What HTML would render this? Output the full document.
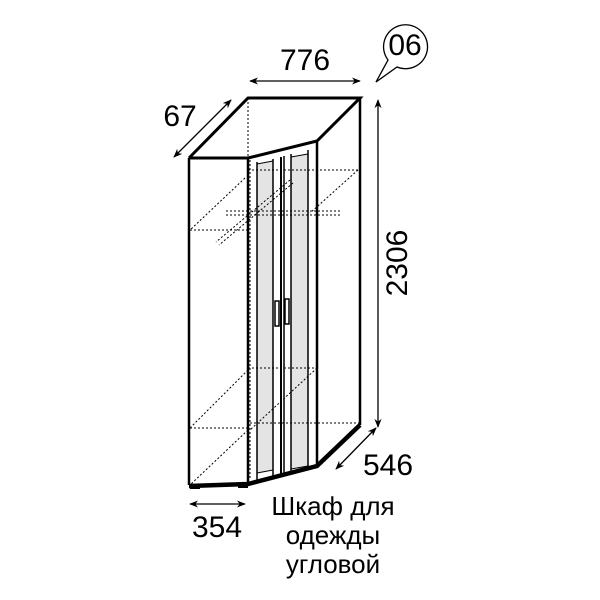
<!DOCTYPE html>
<html><head><meta charset="utf-8"><style>
html,body{margin:0;padding:0;background:#fff}
svg{display:block}
text{font-family:"Liberation Sans",sans-serif;fill:#000}
</style></head><body>
<svg width="600" height="600" viewBox="0 0 600 600" xmlns="http://www.w3.org/2000/svg">
<defs>
<marker id="a" viewBox="0 0 10 10" refX="9" refY="5" markerWidth="9" markerHeight="9" orient="auto-start-reverse" markerUnits="userSpaceOnUse">
<path d="M0,1 L10,5 L0,9 L3,5 Z" fill="#000"/></marker>
</defs>
<polygon points="257,164 273,161 273,470 257,473" fill="#e4e4e4"/>
<polygon points="291,157 308,154 308,466 291,469" fill="#e4e4e4"/>
<g stroke="#000" stroke-width="1" stroke-dasharray="2,2" fill="none">
<line x1="248" y1="98" x2="248" y2="158"/>
<line x1="248" y1="98" x2="360" y2="98"/>
<line x1="250" y1="160" x2="250" y2="480"/>
<line x1="248" y1="170" x2="358" y2="170"/>
<line x1="358" y1="170" x2="310" y2="213"/>
<line x1="245" y1="178" x2="190" y2="230"/>
<line x1="190" y1="230" x2="250" y2="230"/>
<line x1="226" y1="211" x2="340" y2="211"/>
<line x1="226" y1="215" x2="340" y2="215"/>
<line x1="290" y1="180" x2="216" y2="242"/>
<line x1="293" y1="183" x2="219" y2="245"/>
<line x1="248" y1="368" x2="317" y2="368"/>
<line x1="248" y1="370" x2="190" y2="428"/>
<line x1="317" y1="368" x2="250" y2="430"/>
<line x1="190" y1="428" x2="250" y2="428"/>
<line x1="250" y1="423" x2="360" y2="423"/>
<line x1="248" y1="430" x2="190" y2="485"/>
</g>
<g stroke="#000" fill="none" stroke-linejoin="miter">
<line x1="189" y1="158" x2="189" y2="485" stroke-width="2.5"/>
<line x1="248" y1="158" x2="248" y2="483" stroke-width="2.5"/>
<line x1="317" y1="141" x2="317" y2="465" stroke-width="2.5"/>
<line x1="360" y1="98" x2="360" y2="425" stroke-width="2.5"/>
<polyline points="189,158 248,98 360,98 317,141 248,158 189,158" stroke-width="3"/>
<polyline points="189,486 248,484 317,466 360,425" stroke-width="4.5"/>
<line x1="257" y1="162" x2="257" y2="480" stroke-width="1.5"/>
<line x1="273" y1="159" x2="273" y2="477" stroke-width="1.5"/>
<line x1="281" y1="157" x2="281" y2="475" stroke-width="2"/>
<line x1="284" y1="156" x2="284" y2="474" stroke-width="1.5"/>
<line x1="291" y1="154" x2="291" y2="472" stroke-width="1.5"/>
<line x1="308" y1="150" x2="308" y2="468" stroke-width="1.5"/>
<line x1="257" y1="164" x2="273" y2="161" stroke-width="1"/>
<line x1="291" y1="157" x2="308" y2="154" stroke-width="1"/>
<line x1="257" y1="473" x2="273" y2="470" stroke-width="1"/>
<line x1="291" y1="469" x2="308" y2="466" stroke-width="1"/>
<rect x="275" y="301" width="4" height="25" stroke-width="1.5"/>
<rect x="285" y="299" width="4" height="25" stroke-width="1.5"/>
</g>
<rect x="190" y="485" width="10" height="4" fill="#000"/>
<rect x="238" y="484" width="10" height="4" fill="#000"/>
<g stroke="#000" stroke-width="1.3" marker-start="url(#a)" marker-end="url(#a)">
<line x1="250" y1="81" x2="360" y2="81"/>
<line x1="174" y1="157" x2="231" y2="100"/>
<line x1="378" y1="100" x2="378" y2="427"/>
<line x1="376" y1="428" x2="336" y2="469"/>
<line x1="190" y1="504" x2="245" y2="504"/>
</g>
<path d="M388,60 A22,22 0 1 1 397,67 L376,82 Z" fill="#fff" stroke="#000" stroke-width="1.3"/>
<text x="405" y="55" font-size="30" text-anchor="middle">06</text>
<text x="305" y="70" font-size="30" text-anchor="middle">776</text>
<text x="180" y="126" font-size="30" text-anchor="middle">67</text>
<text x="0" y="0" font-size="30" text-anchor="middle" transform="translate(407,263) rotate(-90)">2306</text>
<text x="388" y="475" font-size="30" text-anchor="middle">546</text>
<text x="217" y="537" font-size="30" text-anchor="middle">354</text>
<text x="333" y="515" font-size="26" text-anchor="middle">Шкаф для</text>
<text x="333" y="544" font-size="26" text-anchor="middle">одежды</text>
<text x="333" y="573" font-size="26" text-anchor="middle">угловой</text>
</svg>
</body></html>
